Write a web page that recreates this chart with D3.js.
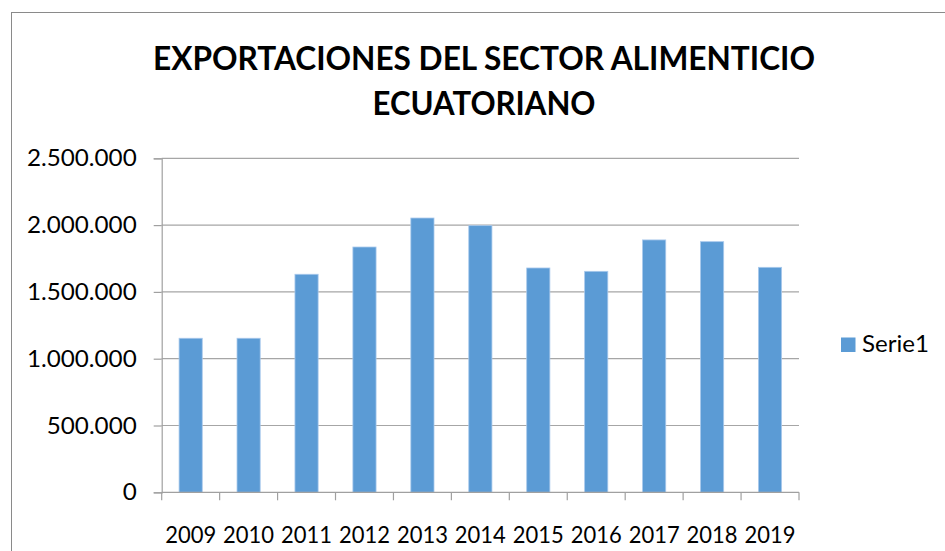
<!DOCTYPE html>
<html><head><meta charset="utf-8">
<script src="https://cdn.jsdelivr.net/npm/d3@7/dist/d3.min.js"></script>
<style>html,body{margin:0;padding:0;background:#fff;overflow:hidden}</style>
</head><body>
<svg id="c" width="945" height="551"></svg>
<script>
const categories = ["2009","2010","2011","2012","2013","2014","2015","2016","2017","2018","2019"];
const values = [1153000,1153000,1632000,1836000,2053000,1996000,1679000,1654000,1889000,1876000,1684000];
const yTicks = [0,500000,1000000,1500000,2000000,2500000];
const seriesName = "Serie1";
const titleLines = ["EXPORTACIONES DEL SECTOR ALIMENTICIO","ECUATORIANO"];

const svg = d3.select("#c");
const font = "Lato, Carlito, Calibri, sans-serif";
const pLeft = 161.7, pRight = 799, pTop = 158.3, pBottom = 492.3;

svg.append("rect").attr("x",11.5).attr("y",12.5).attr("width",1000).attr("height",1000)
  .attr("fill","#fff").attr("stroke","#8a8a8a").attr("stroke-width",1);

const x = d3.scaleBand().domain(categories).range([pLeft,pRight]).paddingInner(0.6).paddingOuter(0.3);
const y = d3.scaleLinear().domain([0,2500000]).range([pBottom,pTop]);
const loc = d3.formatLocale({decimal:",",thousands:".",grouping:[3],currency:["",""]});
const fmt = loc.format(",");

// gridlines
svg.append("g").selectAll("line").data(yTicks.filter(d=>d>0)).join("line")
  .attr("x1",pLeft).attr("x2",pRight).attr("y1",d=>y(d)).attr("y2",d=>y(d))
  .attr("stroke","#a6a6a6").attr("stroke-width",1.2);

// bars
svg.append("g").selectAll("rect").data(values).join("rect")
  .attr("x",(d,i)=>x(categories[i])).attr("width",x.bandwidth())
  .attr("y",d=>y(d)).attr("height",d=>pBottom-y(d))
  .attr("fill","#5b9bd5").attr("stroke","#a9c9ec").attr("stroke-width",0.8);

// y axis
const ya = svg.append("g").attr("transform",`translate(${pLeft},0)`)
  .call(d3.axisLeft(y).tickValues(yTicks).tickFormat(fmt).tickSize(8).tickPadding(17));
ya.select(".domain").attr("stroke","#a0a0a0").attr("stroke-width",1.2);
ya.selectAll(".tick line").attr("stroke","#a0a0a0").attr("stroke-width",1.2);
ya.selectAll("text").attr("font-family",font).attr("font-size",23.5).attr("fill","#000")
  .each(function(){ const w = this.getComputedTextLength(); d3.select(this).attr("textLength", w*1.03).attr("lengthAdjust","spacingAndGlyphs"); });

// x axis
const xa = svg.append("g").attr("transform",`translate(0,${pBottom})`)
  .call(d3.axisBottom(x).tickSize(0).tickPadding(34));
xa.select(".domain").remove();
xa.selectAll("text").attr("font-family",font).attr("font-size",23).attr("fill","#000")
  .attr("textLength",51).attr("lengthAdjust","spacingAndGlyphs");
svg.append("line").attr("x1",pLeft).attr("x2",pRight).attr("y1",pBottom).attr("y2",pBottom)
  .attr("stroke","#a0a0a0").attr("stroke-width",1.2);
const bounds = categories.map(c=>x(c)-x.step()*x.paddingInner()/2).concat([pRight]);
svg.append("g").selectAll("line").data(bounds).join("line")
  .attr("x1",d=>d).attr("x2",d=>d).attr("y1",pBottom).attr("y2",pBottom+8)
  .attr("stroke","#a0a0a0").attr("stroke-width",1.2);

// title
svg.append("text").attr("x",484).attr("y",70).attr("text-anchor","middle")
  .attr("font-family",font).attr("font-weight","bold").attr("font-size",32)
  .attr("textLength",662).attr("lengthAdjust","spacingAndGlyphs").text(titleLines[0]);
svg.append("text").attr("x",484).attr("y",115).attr("text-anchor","middle")
  .attr("font-family",font).attr("font-weight","bold").attr("font-size",32)
  .attr("textLength",223).attr("lengthAdjust","spacingAndGlyphs").text(titleLines[1]);

// legend
svg.append("rect").attr("x",841).attr("y",337.5).attr("width",14.5).attr("height",14.5).attr("fill","#5b9bd5");
svg.append("text").attr("x",862).attr("y",352).attr("font-family",font).attr("font-size",23.5)
  .attr("textLength",67).attr("lengthAdjust","spacingAndGlyphs").text(seriesName);
</script>
</body></html>
